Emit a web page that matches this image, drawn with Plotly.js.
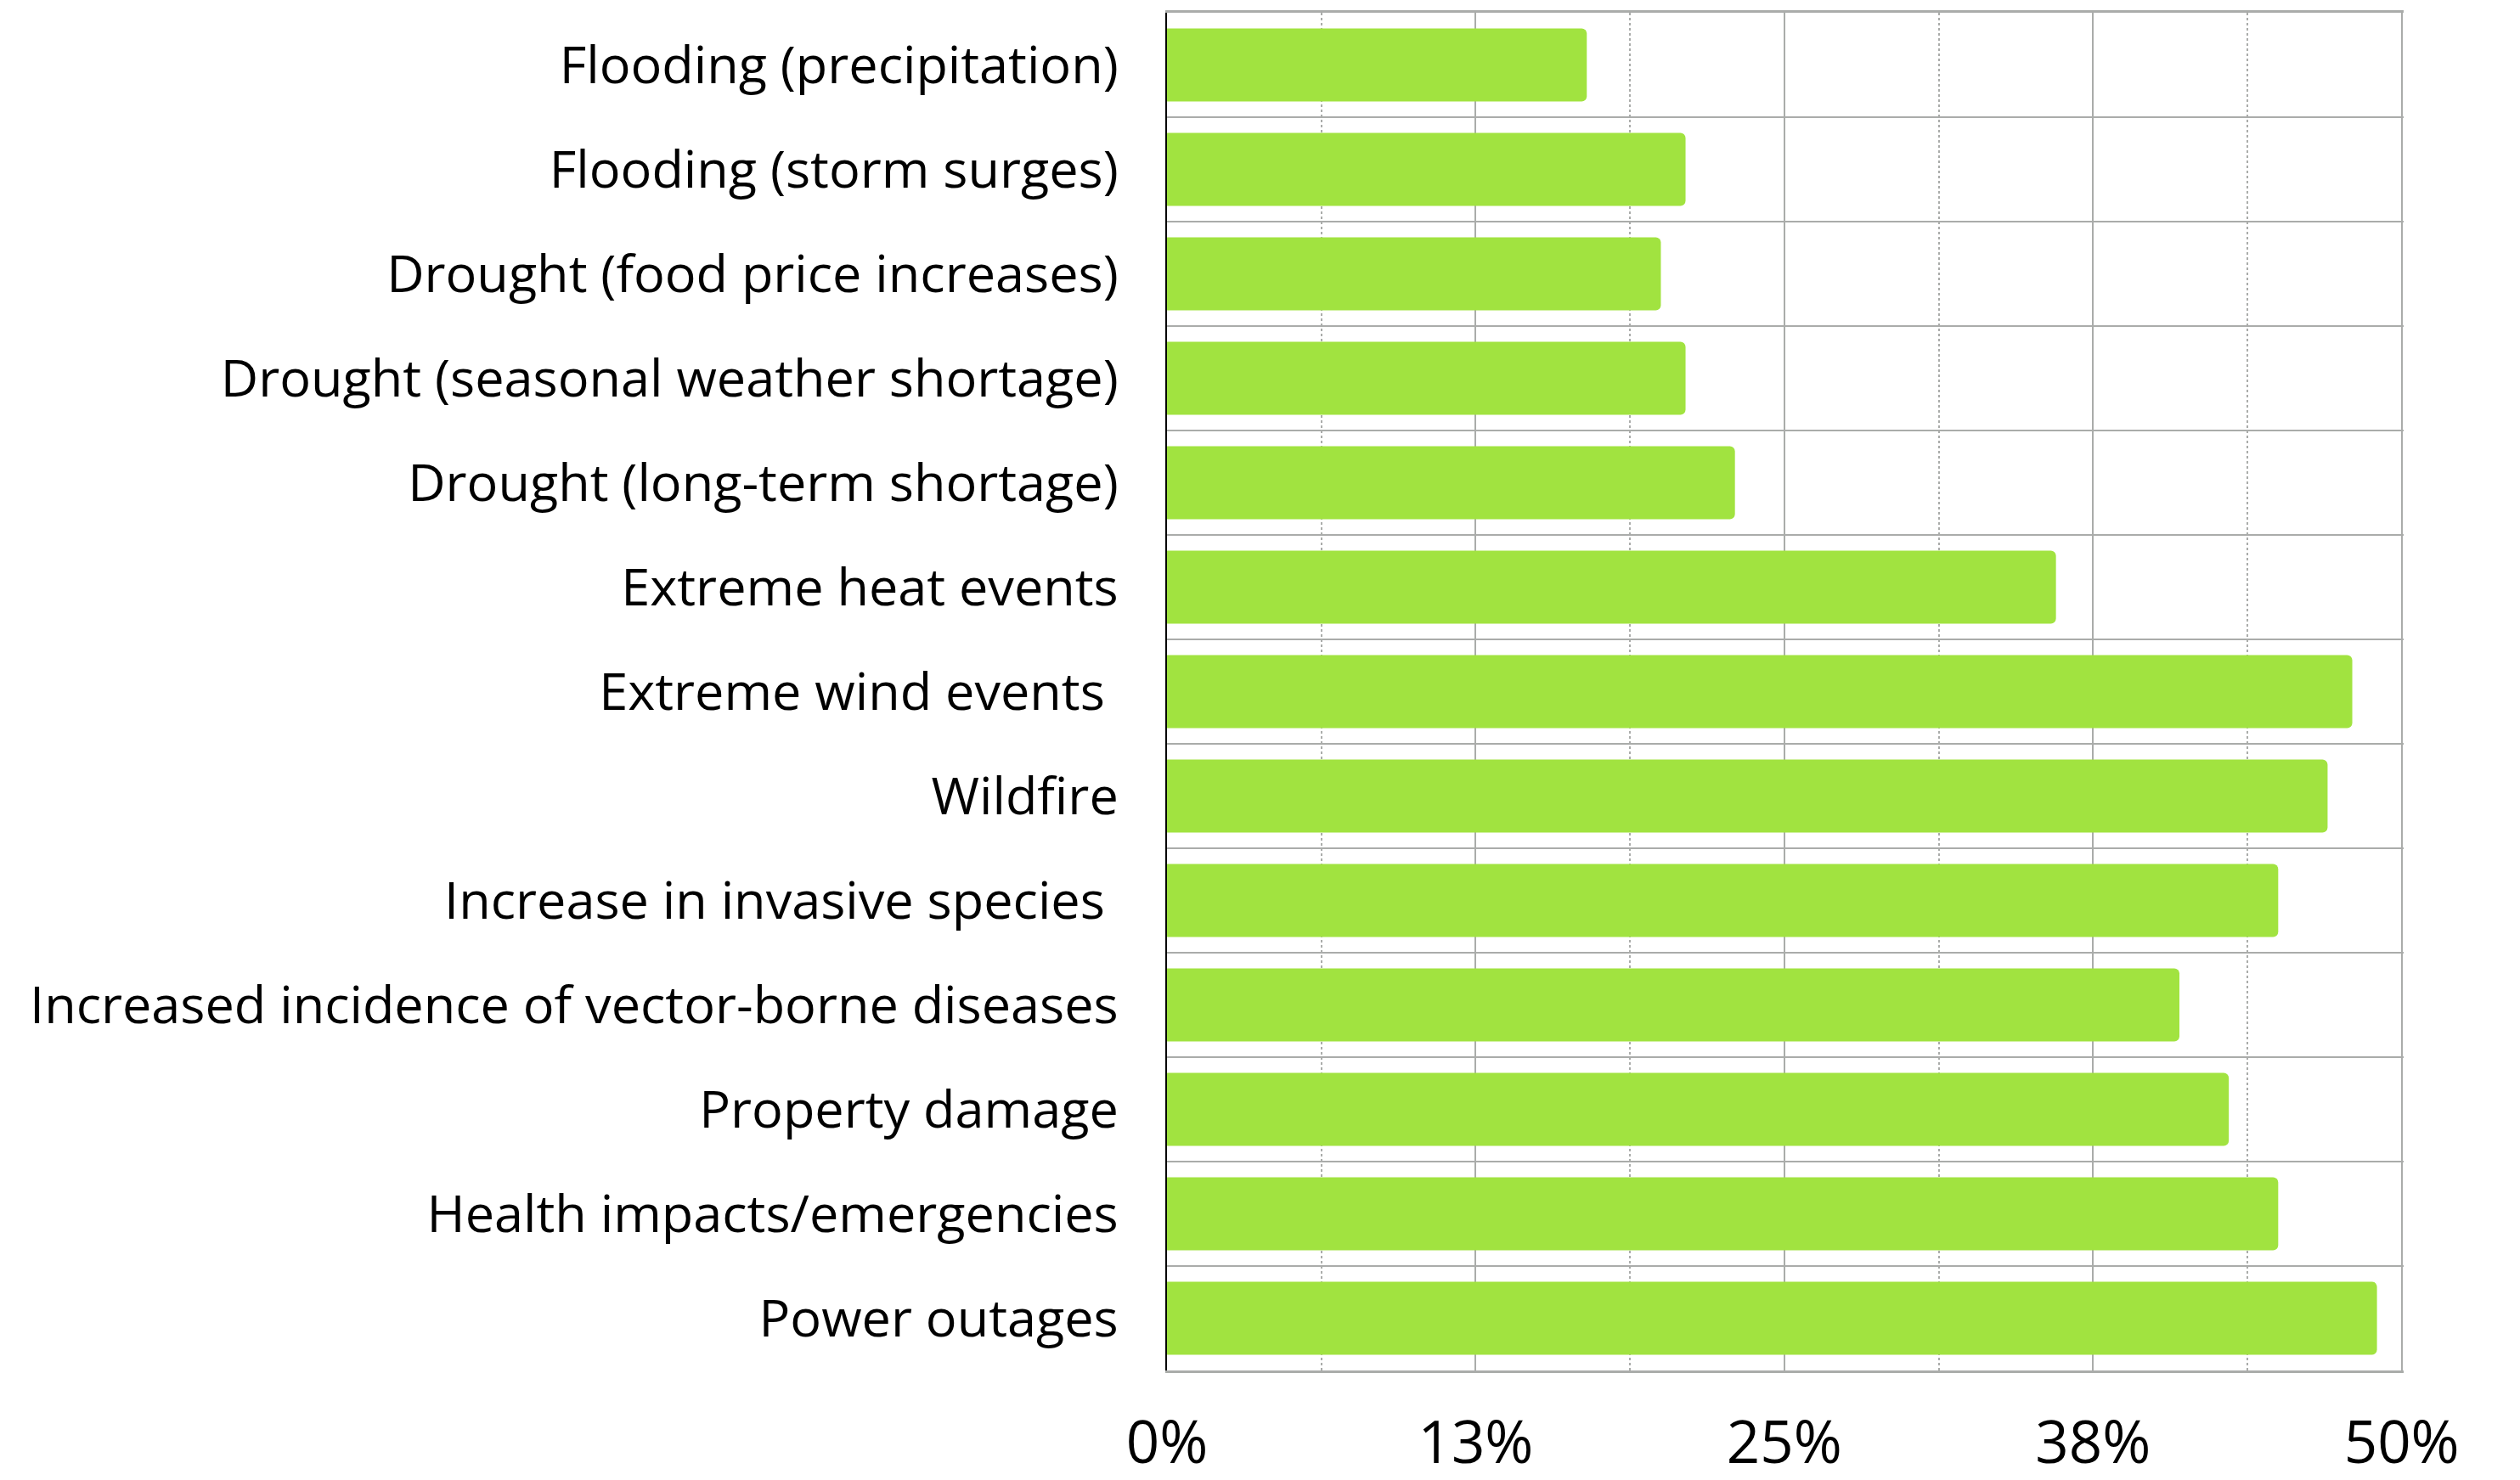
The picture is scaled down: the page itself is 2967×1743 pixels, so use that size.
<!DOCTYPE html>
<html>
<head>
<meta charset="utf-8">
<script src="https://cdn.plot.ly/plotly-3.0.1.min.js"></script>
<style>html,body{margin:0;padding:0;background:#fff;}#chart{width:2967px;height:1743px;}</style>
</head>
<body>
<div id="chart"></div>
<script>
const categories = [
  "Flooding (precipitation)",
  "Flooding (storm surges)",
  "Drought (food price increases)",
  "Drought (seasonal weather shortage)",
  "Drought (long-term shortage)",
  "Extreme heat events",
  "Extreme wind events\u00a0",
  "Wildfire",
  "Increase in invasive species\u00a0",
  "Increased incidence of vector-borne diseases",
  "Property damage",
  "Health impacts/emergencies",
  "Power outages"
];
const values = [17, 21, 20, 21, 23, 36, 48, 47, 45, 41, 43, 45, 49];
const xTickVals = [0, 12.5, 25, 37.5, 50];
const xTickText = ["0%", "13%", "25%", "38%", "50%"];
const xMinorVals = [6.25, 18.75, 31.25, 43.75];

const positions = categories.map((c, i) => i);
const boundaries = categories.map((c, i) => i + 0.5);

const gridColor = "rgb(170,172,170)";

const trace = {
  type: "bar",
  orientation: "h",
  x: values,
  y: positions,
  width: 0.7,
  marker: { color: "rgb(161,227,64)", cornerradius: 6, line: { width: 0 } },
  hoverinfo: "x+text",
  text: categories,
  textposition: "none"
};

const layout = {
  width: 2967,
  height: 1743,
  margin: { l: 1374, r: 137, t: 15, b: 129, pad: 0 },
  paper_bgcolor: "#ffffff",
  plot_bgcolor: "#ffffff",
  showlegend: false,
  bargap: 0.3,
  font: { family: "Open Sans, sans-serif", color: "#000000" },
  xaxis: {
    range: [0, 50.08],
    tickmode: "array",
    tickvals: xTickVals,
    ticktext: xTickText,
    tickfont: { size: 69, family: "Open Sans, sans-serif", color: "#000" },
    ticks: "",
    ticklabelstandoff: 23,
    showgrid: true,
    gridcolor: gridColor,
    gridwidth: 2,
    minor: {
      tickmode: "array",
      tickvals: xMinorVals,
      showgrid: true,
      gridcolor: gridColor,
      gridwidth: 2,
      griddash: "dot",
      ticks: ""
    },
    zeroline: false,
    showline: true,
    linecolor: gridColor,
    linewidth: 3,
    mirror: true,
    fixedrange: true
  },
  yaxis: {
    range: [12.5, -0.5],
    tickmode: "array",
    tickvals: positions,
    ticktext: categories,
    tickfont: { size: 61.2, family: "Open Sans, sans-serif", color: "#000" },
    ticks: "",
    ticklabelstandoff: 43,
    showgrid: false,
    minor: {
      tickmode: "array",
      tickvals: boundaries,
      showgrid: true,
      gridcolor: gridColor,
      gridwidth: 2,
      ticks: ""
    },
    zeroline: false,
    showline: true,
    linecolor: "#000000",
    linewidth: 2,
    mirror: false,
    fixedrange: true
  }
};

Plotly.newPlot("chart", [trace], layout, { staticPlot: true, displayModeBar: false });
</script>
</body>
</html>
